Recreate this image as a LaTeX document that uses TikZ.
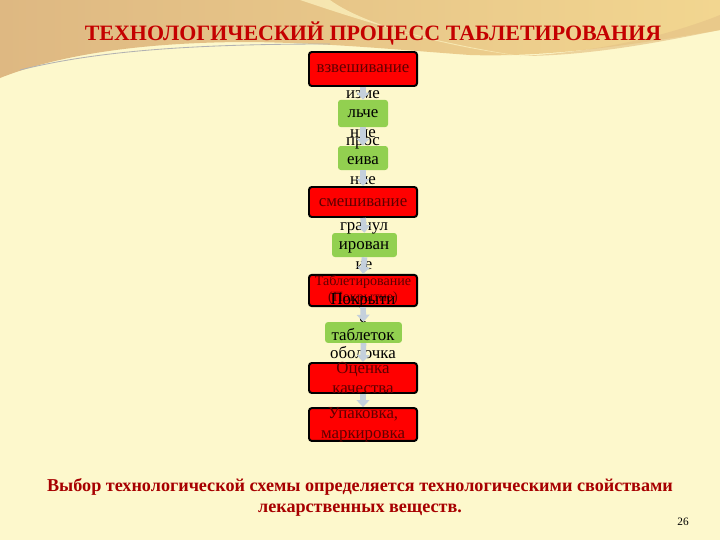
\documentclass[tikz,border=0pt]{standalone}
\usepackage{fontspec}
\setmainfont{Liberation Serif}
\usetikzlibrary{calc,arrows.meta}
\definecolor{creme}{RGB}{253,248,204}
\definecolor{tanA}{RGB}{222,184,130}
\definecolor{tanB}{RGB}{242,214,144}
\definecolor{rouge}{RGB}{255,0,0}
\definecolor{rougefonce}{RGB}{95,0,0}
\definecolor{titre}{RGB}{196,0,0}
\definecolor{vert}{RGB}{146,208,80}
\definecolor{fleche}{RGB}{196,208,220}
\tikzset{
  etape/.style={draw=black,line width=1.4pt,fill=rouge,rounded corners=2pt,minimum width=2.7cm,inner sep=0pt},
  operation/.style={fill=vert,rounded corners=2pt,inner sep=0pt},
  txtrouge/.style={text=rougefonce,font=\fontsize{12}{14}\selectfont,align=center,inner sep=0pt},
  txtvert/.style={text=black,font=\fontsize{12}{13.6}\selectfont,align=center,inner sep=0pt},
  lien/.style={draw=fleche,line width=4pt,-{Triangle[width=9pt,length=5pt]}}
}
\begin{document}
\begin{tikzpicture}[x=0.025cm,y=-0.025cm]
  %fond
  \fill[creme] (0,0) rectangle (720,540);
  \useasboundingbox (0,0) rectangle (720,540);
  \shade[left color=tanA,right color=tanB] (0,0) -- (720,0) -- (720,30)
        .. controls (660,40) and (560,58) .. (470,55)
        .. controls (400,50) and (330,43) .. (250,42)
        .. controls (130,42) and (50,58) .. (0,78) -- cycle;
  %reflets
  \fill[creme!70!tanB,opacity=0.8] (300,0) .. controls (360,20) and (420,40) .. (520,56)
        .. controls (430,44) and (360,22) .. (330,0) -- cycle;
  \fill[tanA!60!tanB,opacity=0.7] (520,56) .. controls (600,52) and (670,35) .. (720,15) -- (720,30)
        .. controls (660,42) and (590,56) .. (520,56) -- cycle;
  \draw[gray!60,line width=0.6pt] (20,70) .. controls (100,50) and (200,44) .. (330,44);

  %titre
  \node[text=titre,font=\fontsize{15.6}{17}\bfseries\selectfont] (titre) at (373,33) {ТЕХНОЛОГИЧЕСКИЙ ПРОЦЕСС ТАБЛЕТИРОВАНИЯ};

  %boites
  \node[etape,minimum height=0.85cm] (vzv) at (363,69) {};
  \node[operation,minimum width=1.25cm,minimum height=0.68cm] (izm) at (363,113.5) {};
  \node[operation,minimum width=1.25cm,minimum height=0.6cm] (pros) at (363,158) {};
  \node[etape,minimum height=0.75cm] (smes) at (363,202) {};
  \node[operation,minimum width=1.62cm,minimum height=0.6cm] (gran) at (364.5,245) {};
  \node[etape,minimum height=0.78cm] (tabl) at (363,290.5) {};
  \node[operation,minimum width=1.92cm,minimum height=0.52cm] (pokr) at (363.5,332.5) {};
  \node[etape,minimum height=0.75cm] (ocen) at (363,378) {};
  \node[etape,minimum height=0.82cm] (upak) at (363,424.5) {};

  %textes
  \node[txtrouge] (t-vzv) at (363,69) {взвешивание};
  \node[txtvert] (t-izm) at (363,114) {изме\\льче\\ние};
  \node[txtvert] (t-pros) at (363,161) {прос\\еива\\ние};
  \node[txtrouge] (t-smes) at (363,203) {смешивание};
  \node[txtvert] (t-gran) at (364,246) {гранул\\ирован\\ие};
  \node[txtrouge,font=\fontsize{10}{12}\selectfont] (t-tabl) at (363,290) {Таблетирование\\(Покрытие)};
  \node[txtvert,font=\fontsize{12}{12.8}\selectfont] (t-pokr) at (363,326) {Покрыти\\е\\таблеток\\оболочка};
  \node[txtrouge] (t-ocen) at (363,378) {Оценка\\качества};
  \node[txtrouge] (t-upak) at (363,425) {Упаковка,\\маркировка};

  %fleches
  \draw[lien] (vzv.south) -- (izm.north);
  \draw[lien] (izm.south) -- (pros.north);
  \draw[lien] (pros.south) -- (smes.north);
  \draw[lien] (smes.south) -- (gran.north);
  \draw[lien] (gran.south) -- (tabl.north);
  \draw[lien] (tabl.south) -- (pokr.north);
  \draw[lien] (pokr.south) -- (ocen.north);
  \draw[lien] (ocen.south) -- (upak.north);

  %conclusion
  \node[text=titre!85!black,font=\fontsize{12.9}{15}\bfseries\selectfont,align=center] (concl) at (360,497)
       {Выбор технологической схемы определяется технологическими свойствами\\лекарственных веществ.};
  \node[font=\fontsize{8}{9}\selectfont] (page) at (683,522) {26};
\end{tikzpicture}
\end{document}
